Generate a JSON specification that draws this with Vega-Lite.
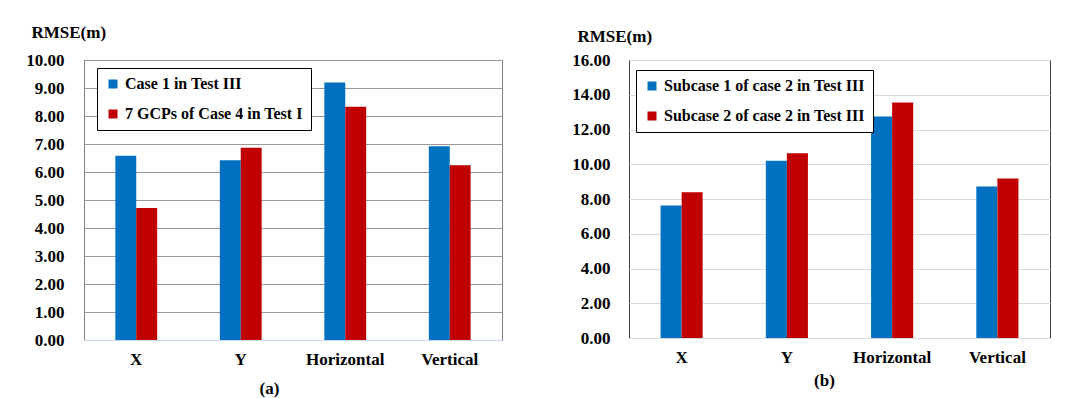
{
  "$schema": "https://vega.github.io/schema/vega-lite/v6.json",
  "background": "white",
  "padding": {"left": 25, "top": 22, "right": 10, "bottom": 5},
  "spacing": 68,
  "datasets": {
    "a": [
      {"cat": "X", "series": "Case 1 in Test III", "value": 6.58},
      {"cat": "X", "series": "7 GCPs of Case 4 in Test I", "value": 4.71},
      {"cat": "Y", "series": "Case 1 in Test III", "value": 6.42},
      {"cat": "Y", "series": "7 GCPs of Case 4 in Test I", "value": 6.87},
      {"cat": "Horizontal", "series": "Case 1 in Test III", "value": 9.2},
      {"cat": "Horizontal", "series": "7 GCPs of Case 4 in Test I", "value": 8.33},
      {"cat": "Vertical", "series": "Case 1 in Test III", "value": 6.92},
      {"cat": "Vertical", "series": "7 GCPs of Case 4 in Test I", "value": 6.24}
    ],
    "b": [
      {"cat": "X", "series": "Subcase 1 of case 2 in Test III", "value": 7.62},
      {"cat": "X", "series": "Subcase 2 of case 2 in Test III", "value": 8.39},
      {"cat": "Y", "series": "Subcase 1 of case 2 in Test III", "value": 10.2},
      {"cat": "Y", "series": "Subcase 2 of case 2 in Test III", "value": 10.63},
      {"cat": "Horizontal", "series": "Subcase 1 of case 2 in Test III", "value": 12.75},
      {"cat": "Horizontal", "series": "Subcase 2 of case 2 in Test III", "value": 13.55},
      {"cat": "Vertical", "series": "Subcase 1 of case 2 in Test III", "value": 8.72},
      {"cat": "Vertical", "series": "Subcase 2 of case 2 in Test III", "value": 9.18}
    ]
  },
  "resolve": {
    "scale": {"x": "independent", "y": "independent", "color": "independent", "xOffset": "independent"},
    "axis": {"x": "independent", "y": "independent"},
    "legend": {"color": "independent"}
  },
  "config": {
    "font": "Times New Roman, Liberation Serif, Tinos, DejaVu Serif, serif",
    "axis": {
      "labelFont": "Times New Roman, Liberation Serif, Tinos, DejaVu Serif, serif", "labelFontWeight": "bold", "labelFontSize": 17, "labelColor": "black",
      "titleFont": "Times New Roman, Liberation Serif, Tinos, DejaVu Serif, serif", "titleFontWeight": "bold", "titleFontSize": 17, "titleColor": "black",
      "ticks": false
    },
    "legend": {
      "labelFont": "Times New Roman, Liberation Serif, Tinos, DejaVu Serif, serif", "labelFontWeight": "bold", "labelFontSize": 16, "labelColor": "black",
      "strokeColor": "black", "fillColor": "white", "padding": 8, "symbolType": "square", "symbolSize": 81,
      "symbolStrokeWidth": 0, "rowPadding": 14, "labelOffset": 4, "labelLimit": 400
    }
  },
  "hconcat": [
    {
      "width": 418,
      "height": 280,
      "view": {"stroke": "#7f7f7f", "strokeWidth": 1},
      "data": {"name": "a"},
      "mark": {"type": "bar"},
      "encoding": {
        "x": {
          "field": "cat", "type": "nominal", "sort": ["X", "Y", "Horizontal", "Vertical"],
          "scale": {"paddingInner": 0.6, "paddingOuter": 0.3},
          "axis": {"labelAngle": 0, "labelPadding": 11, "domainColor": "#C6D9F1", "title": "(a)", "titleX": 185, "titleY": 48, "titleBaseline": "middle", "titleAlign": "center"}
        },
        "xOffset": {"field": "series", "type": "nominal", "sort": ["Case 1 in Test III", "7 GCPs of Case 4 in Test I"]},
        "y": {
          "field": "value", "type": "quantitative", "scale": {"domain": [0, 10], "nice": false},
          "axis": {"values": [0, 1, 2, 3, 4, 5, 6, 7, 8, 9, 10], "format": ".2f", "domain": false, "labelPadding": 20, "gridColor": "#999999", "gridOpacity": 1,
                   "title": "RMSE(m)", "titleAngle": 0, "titleX": -53, "titleY": -28, "titleAlign": "left", "titleBaseline": "middle"}
        },
        "color": {
          "field": "series", "type": "nominal",
          "scale": {"domain": ["Case 1 in Test III", "7 GCPs of Case 4 in Test I"], "range": ["#0070C0", "#C00000"]},
          "legend": {"orient": "none", "legendX": 13, "legendY": 8, "title": null}
        }
      }
    },
    {
      "width": 421,
      "height": 278,
      "view": {"stroke": "#404040", "strokeWidth": 1},
      "data": {"name": "b"},
      "mark": {"type": "bar"},
      "encoding": {
        "x": {
          "field": "cat", "type": "nominal", "sort": ["X", "Y", "Horizontal", "Vertical"],
          "scale": {"paddingInner": 0.6, "paddingOuter": 0.3},
          "axis": {"labelAngle": 0, "labelPadding": 11, "domainColor": "#D9D9D9", "title": "(b)", "titleX": 195, "titleY": 42, "titleBaseline": "middle", "titleAlign": "center"}
        },
        "xOffset": {"field": "series", "type": "nominal", "sort": ["Subcase 1 of case 2 in Test III", "Subcase 2 of case 2 in Test III"]},
        "y": {
          "field": "value", "type": "quantitative", "scale": {"domain": [0, 16], "nice": false},
          "axis": {"values": [0, 2, 4, 6, 8, 10, 12, 14, 16], "format": ".2f", "domain": false, "labelPadding": 19, "gridColor": "#D9D9D9", "gridOpacity": 1,
                   "title": "RMSE(m)", "titleAngle": 0, "titleX": -52, "titleY": -24, "titleAlign": "left", "titleBaseline": "middle"}
        },
        "color": {
          "field": "series", "type": "nominal",
          "scale": {"domain": ["Subcase 1 of case 2 in Test III", "Subcase 2 of case 2 in Test III"], "range": ["#0070C0", "#C00000"]},
          "legend": {"orient": "none", "legendX": 7, "legendY": 10, "title": null}
        }
      }
    }
  ]
}
